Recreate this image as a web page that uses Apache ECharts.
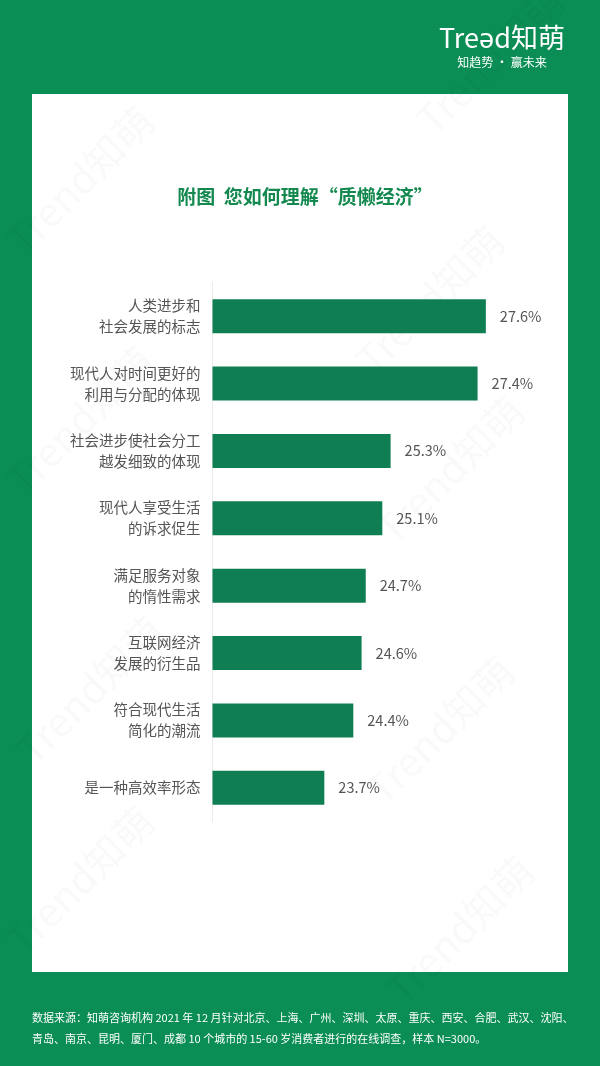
<!DOCTYPE html>
<html><head><meta charset="utf-8">
<script src="https://cdn.jsdelivr.net/npm/echarts@6/dist/echarts.min.js"></script>
<style>html,body{margin:0;padding:0;background:#0b8e55;}#c{width:600px;height:1066px;}</style>
</head><body><div id="c"></div>
<script>
const categories = ['人类进步和\n社会发展的标志','现代人对时间更好的\n利用与分配的体现','社会进步使社会分工\n越发细致的体现','现代人享受生活\n的诉求促生','满足服务对象\n的惰性需求','互联网经济\n发展的衍生品','符合现代生活\n简化的潮流','是一种高效率形态'];
const values = [27.6,27.4,25.3,25.1,24.7,24.6,24.4,23.7];
const titleText = '附图  您如何理解“质懒经济”';
const noteLines = ['数据来源：知萌咨询机构 2021 年 12 月针对北京、上海、广州、深圳、太原、重庆、西安、合肥、武汉、沈阳、','青岛、南京、昆明、厦门、成都 10 个城市的 15-60 岁消费者进行的在线调查，样本 N=3000。'];

const FONT = '"Noto Sans CJK SC", "Noto Sans", sans-serif';
const chart = echarts.init(document.getElementById('c'), null, {renderer:'canvas'});

const wm = [];
const wmPos = [[80,180],[430,300],[80,420],[450,470],[90,690],[440,730],[460,930],[80,880],[490,60]];
wmPos.forEach(p=>wm.push({type:'text',x:p[0],y:p[1],rotation:Math.PI/4,z:1,style:{text:'Trend知萌',fill:'rgba(0,0,0,0.022)',font:'40px '+FONT,align:'center',verticalAlign:'middle'}}));

chart.setOption({
  backgroundColor:'#0b8e55',
  animation:false,
  graphic:[
    {type:'rect',shape:{x:32,y:94,width:536,height:878},style:{fill:'#ffffff'},z:0},
    ...wm,
    {type:'text',x:305,y:197,style:{text:titleText,fill:'#13894f',font:'bold 19px '+FONT,align:'center',verticalAlign:'middle'},z:5},
    {type:'text',x:502,y:38,style:{text:'Treǝd知萌',fill:'#ffffff',font:'27px '+FONT,align:'center',verticalAlign:'middle'},z:5},
    {type:'text',x:502,y:62,style:{text:'知趋势 · 赢未来',fill:'#ffffff',font:'12px '+FONT,align:'center',verticalAlign:'middle'},z:5},
    {type:'text',x:32,y:1018,style:{text:noteLines[0],fill:'#ffffff',font:'11px '+FONT,align:'left',verticalAlign:'middle'},z:5},
    {type:'text',x:32,y:1039,style:{text:noteLines[1],fill:'#ffffff',font:'11px '+FONT,align:'left',verticalAlign:'middle'},z:5}
  ],
  grid:{left:212.5,width:292,top:282.5,height:539,containLabel:false},
  xAxis:{type:'value',min:21,max:28.05,show:false},
  yAxis:{type:'category',data:categories,inverse:true,
    axisLine:{show:true,lineStyle:{color:'#ececec',width:1}},
    axisTick:{show:false},
    axisLabel:{color:'#555555',fontSize:14.5,fontFamily:FONT,lineHeight:21,align:'right',margin:12}
  },
  series:[{type:'bar',data:values,barWidth:34,itemStyle:{color:'#0f7f53'},
    label:{show:true,position:'right',distance:14,formatter:p=>p.value.toFixed(1)+'%',color:'#555555',fontSize:14.5,fontFamily:FONT},z:3}]
});
</script></body></html>
